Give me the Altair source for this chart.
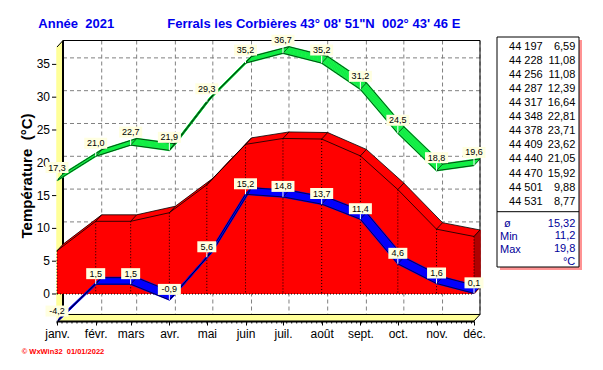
import altair as alt
import pandas as pd

# ---------------- data ----------------
months = ["janv.", "févr.", "mars", "avr.", "mai", "juin", "juil.", "août", "sept.", "oct.", "nov.", "déc."]
serials = [44197, 44228, 44256, 44287, 44317, 44348, 44378, 44409, 44440, 44470, 44501, 44531]
tmax = [17.3, 21.0, 22.7, 21.9, 29.3, 35.2, 36.7, 35.2, 31.2, 24.5, 18.8, 19.6]
tmin = [-4.2, 1.5, 1.5, -0.9, 5.6, 15.2, 14.8, 13.7, 11.4, 4.6, 1.6, 0.1]
tmean = [6.59, 11.08, 11.08, 12.39, 16.64, 22.81, 23.71, 23.62, 21.05, 15.92, 9.88, 8.77]
y_ticks = [0, 5, 10, 15, 20, 25, 30, 35]
minor_tick_days = 4
stat_names = ["Min", "Max"]
stat_avg_symbol = "ø"
stat_values = ["15,32", "11,2", "19,8"]
unit = "°C"
title_left = "Année\u00a0 2021"
title_right = "Ferrals les Corbières 43° 08' 51\"N\u00a0 002° 43' 46 E"
y_title = "Température\u00a0 (°C)"
credit = "© WxWin32\u00a0 01/01/2022"

# ---------------- layout / style ----------------
W, H = 417, 274
DX, DY = 6.0, -6.5
N = 8
FONT = "Liberation Sans"
RED, DARKRED = "#FF0000", "#B00000"
BLUE = "#0000FF"
GREEN = "#11EE44"
YEL = "#FFFF99"
CREAM = "#FFFFE0"
GRID = "#808080"
NAVY = "#000099"


def fr(v, d=1):
    return f"{v:.{d}f}".replace(".", ",")


df = pd.DataFrame({"serial": serials, "tmax": tmax, "tmin": tmin, "tmean": tmean})
df["row"] = range(len(df))
df["lmax"] = [fr(v) for v in tmax]
df["lmin"] = [fr(v) for v in tmin]
one = pd.DataFrame({"k": [0]})
grid_df = pd.DataFrame({"v": y_ticks})
minor_df = pd.DataFrame({"d": list(range(serials[0], serials[-1] + 1, minor_tick_days))})

label_expr = ("[" + ",".join(f"'{m}'" for m in months) + "][indexof(["
              + ",".join(str(s) for s in serials) + "], datum.value)]")

xs = alt.Scale(domain=[serials[0], serials[-1]], nice=False, zero=False)
ys = alt.Scale(domain=[-4.116, 37.65], nice=False, zero=False)
xaxis = alt.Axis(values=serials, labelExpr=label_expr, title=None, grid=False, tickSize=4,
                 tickColor="black", domainColor="black", domainWidth=2, labelFontSize=12,
                 labelColor="black", labelFont=FONT, labelPadding=3, labelFlush=False,
                 labelOverlap=False, zindex=1)
yaxis = alt.Axis(title=None, grid=False, domain=False, ticks=False, labels=False)


def X(f):
    return alt.X(f"{f}:Q", scale=xs, axis=xaxis)


def Y(f):
    return alt.Y(f"{f}:Q", scale=ys, axis=yaxis)


offs = [(DX * k / N, DY * k / N) for k in range(N + 1)]
base = alt.Chart(df)
deco = alt.Chart(one)
layers = []

# back-wall grid
layers.append(alt.Chart(grid_df).mark_rule(color=GRID, strokeDash=[4, 3], strokeWidth=1, yOffset=DY)
              .encode(y=Y("v"), x=alt.value(DX), x2=alt.value(W + DX)))
layers.append(base.transform_filter("datum.row > 0")
              .mark_rule(color=GRID, strokeDash=[4, 3], strokeWidth=1, xOffset=DX)
              .encode(x=X("serial"), y=alt.value(DY), y2=alt.value(H + DY)))

# y axis (front plane): ticks and labels
layers.append(alt.Chart(grid_df).mark_rule(color="black", strokeWidth=1)
              .encode(y=Y("v"), x=alt.value(-5), x2=alt.value(0)))
layers.append(alt.Chart(grid_df).mark_text(font=FONT, fontSize=12, color="black", align="right",
                                           baseline="middle")
              .encode(y=Y("v"), x=alt.value(-7), text="v:Q"))

# left wall and floor (yellow)
for ox, oy in offs:
    layers.append(deco.mark_rule(color=YEL, strokeWidth=1.5, xOffset=ox, yOffset=oy, y2Offset=oy)
                  .encode(x=alt.value(0), y=alt.value(0), y2=alt.value(H)))
    layers.append(deco.mark_rule(color=YEL, strokeWidth=1.5, xOffset=ox, x2Offset=ox, yOffset=oy)
                  .encode(x=alt.value(0), x2=alt.value(W), y=alt.value(H)))

# frame
layers.append(deco.mark_rule(color="black", strokeWidth=2)
              .encode(x=alt.value(DX), y=alt.value(DY), y2=alt.value(H + DY)))
layers.append(deco.mark_rule(color="black", strokeWidth=1)
              .encode(x=alt.value(DX), x2=alt.value(W + DX), y=alt.value(DY)))
layers.append(deco.mark_rule(color="black", strokeWidth=1)
              .encode(x=alt.value(W + DX), y=alt.value(DY), y2=alt.value(H + DY)))
layers.append(deco.mark_rule(color="black", strokeWidth=1)
              .encode(x=alt.value(DX), x2=alt.value(W + DX), y=alt.value(H + DY)))
layers.append(deco.mark_rule(color="black", strokeWidth=1)
              .encode(x=alt.value(0), y=alt.value(0), x2=alt.value(DX), y2=alt.value(DY)))
layers.append(deco.mark_rule(color="black", strokeWidth=1)
              .encode(x=alt.value(W), y=alt.value(H), x2=alt.value(W + DX), y2=alt.value(H + DY)))

# minor ticks on the x axis
layers.append(alt.Chart(minor_df).mark_rule(color="black", strokeWidth=1, y2Offset=2.5)
              .encode(x=X("d"), y=alt.value(H), y2=alt.value(H)))

# mean temperature: 3D red area
for ox, oy in offs:
    layers.append(base.mark_area(color=RED, xOffset=ox, yOffset=oy, y2Offset=oy)
                  .encode(x=X("serial"), y=Y("tmean"), y2=alt.datum(0)))
for ox, oy in offs[1:]:
    layers.append(base.transform_filter(f"datum.row == {len(serials) - 1}")
                  .mark_rule(color=DARKRED, strokeWidth=1.5, xOffset=ox, yOffset=oy, y2Offset=oy)
                  .encode(x=X("serial"), y=Y("tmean"), y2=alt.datum(0)))
layers.append(base.mark_line(color="black", strokeWidth=0.8).encode(x=X("serial"), y=Y("tmean")))
layers.append(base.mark_line(color="black", strokeWidth=0.8, xOffset=DX, yOffset=DY)
              .encode(x=X("serial"), y=Y("tmean")))
layers.append(base.mark_rule(color="black", strokeWidth=0.8, x2Offset=DX, y2Offset=DY)
              .encode(x=X("serial"), x2=alt.X2("serial"), y=Y("tmean"), y2=alt.Y2("tmean")))
layers.append(base.mark_rule(color="black", strokeWidth=1, strokeDash=[1, 2])
              .encode(x=X("serial"), y=Y("tmean"), y2=alt.datum(0)))
layers.append(deco.mark_rule(color="black", strokeWidth=1, strokeDash=[1, 2])
              .encode(x=alt.value(0), x2=alt.value(W), y=alt.datum(0)))


def ribbon(field, color):
    out = []
    for ox, oy in offs:
        out.append(base.mark_line(color=color, strokeWidth=1.6, xOffset=ox, yOffset=oy)
                   .encode(x=X("serial"), y=Y(field)))
    out.append(base.mark_line(color="black", strokeWidth=0.7).encode(x=X("serial"), y=Y(field)))
    out.append(base.mark_line(color="black", strokeWidth=0.7, xOffset=DX, yOffset=DY)
               .encode(x=X("serial"), y=Y(field)))
    out.append(base.mark_rule(color="black", strokeWidth=0.6, x2Offset=DX, y2Offset=DY)
               .encode(x=X("serial"), x2=alt.X2("serial"), y=Y(field), y2=alt.Y2(field)))
    return out


def labels(field, lab, off):
    out = []
    out.append(base.mark_rule(color="white", strokeWidth=1, y2Offset=off + 5.5)
               .encode(x=X("serial"), y=Y(field), y2=alt.Y2(field)))
    for cond, half in ((f"length(datum.{lab}) <= 3", 9.5), (f"length(datum.{lab}) > 3", 11.5)):
        out.append(base.transform_filter(cond)
                   .mark_rect(color=CREAM, xOffset=-half, x2Offset=half,
                              yOffset=off - 5.5, y2Offset=off + 5.5)
                   .encode(x=X("serial"), x2=alt.X2("serial"), y=Y(field), y2=alt.Y2(field)))
    out.append(base.mark_text(font=FONT, fontSize=9, color="black", yOffset=off,
                              baseline="middle", align="center")
               .encode(x=X("serial"), y=Y(field), text=f"{lab}:N"))
    return out


layers += ribbon("tmin", BLUE)
layers += ribbon("tmax", GREEN)
layers += labels("tmin", "lmin", -10.5)
layers += labels("tmax", "lmax", -13)

# titles
layers.append(deco.mark_text(text=title_left, font=FONT, fontSize=13, fontWeight="bold", color="#0000EE",
                             align="left", baseline="middle")
              .encode(x=alt.value(-18.7), y=alt.value(-22.7)))
layers.append(deco.mark_text(text=title_right, font=FONT, fontSize=13, fontWeight="bold", color="#0000EE",
                             align="left", baseline="middle")
              .encode(x=alt.value(110.3), y=alt.value(-22.7)))
layers.append(deco.mark_text(text=y_title, font=FONT, fontSize=15, fontWeight="bold", color="black",
                             align="center", baseline="middle", angle=270)
              .encode(x=alt.value(-30), y=alt.value(129)))
layers.append(deco.mark_text(text=credit, font=FONT, fontSize=7.5, fontWeight="bold", color=RED,
                             align="left", baseline="middle")
              .encode(x=alt.value(-35.3), y=alt.value(304.7)))

# side table
TX0, TX1, TY0, TY1 = 440, 522, -10, 220
layers.append(deco.mark_rect(color="#FF8080", opacity=0.85)
              .encode(x=alt.value(TX0 + 3), x2=alt.value(TX1 + 3), y=alt.value(TY0 + 3), y2=alt.value(TY1 + 3)))
layers.append(deco.mark_rect(fill="white", stroke="black", strokeWidth=1)
              .encode(x=alt.value(TX0), x2=alt.value(TX1), y=alt.value(TY0), y2=alt.value(TY1)))
layers.append(deco.mark_rule(color="black", strokeWidth=1)
              .encode(x=alt.value(TX0), x2=alt.value(TX1), y=alt.value(164.7)))

table_df = pd.DataFrame({
    "serial_col": ["\n".join(f"{s // 1000} {s % 1000:03d}" for s in serials)],
    "mean_col": ["\n".join(fr(v, 2) for v in tmean)],
    "stat_col": ["\n".join(stat_values + [unit])],
    "name_col": ["\n".join(stat_names)],
})
tab = alt.Chart(table_df)
layers.append(tab.mark_text(font=FONT, fontSize=11, color="black", align="right", baseline="alphabetic",
                            lineBreak="\n", lineHeight=14.06)
              .encode(x=alt.value(485.7), y=alt.value(3), text="serial_col:N"))
layers.append(tab.mark_text(font=FONT, fontSize=11, color="black", align="right", baseline="alphabetic",
                            lineBreak="\n", lineHeight=14.06)
              .encode(x=alt.value(518.3), y=alt.value(3), text="mean_col:N"))
layers.append(tab.mark_text(font=FONT, fontSize=11, color=NAVY, align="right", baseline="alphabetic",
                            lineBreak="\n", lineHeight=12.8)
              .encode(x=alt.value(518.3), y=alt.value(179.7), text="stat_col:N"))
layers.append(tab.mark_text(font=FONT, fontSize=11, color=NAVY, align="left", baseline="alphabetic",
                            lineBreak="\n", lineHeight=12.8)
              .encode(x=alt.value(443), y=alt.value(193), text="name_col:N"))
layers.append(deco.mark_text(text=stat_avg_symbol, font=FONT, fontSize=11, color=NAVY, align="left",
                             baseline="alphabetic")
              .encode(x=alt.value(447), y=alt.value(179.7)))

chart = alt.layer(*layers).properties(
    width=W, height=H,
    autosize=alt.AutoSizeParams(type="none"),
    padding={"left": 49, "top": 39, "right": 112, "bottom": 36},
    background="white",
).configure_view(stroke=None)

chart.save("out.html", embed_options={"renderer": "svg", "actions": False})
